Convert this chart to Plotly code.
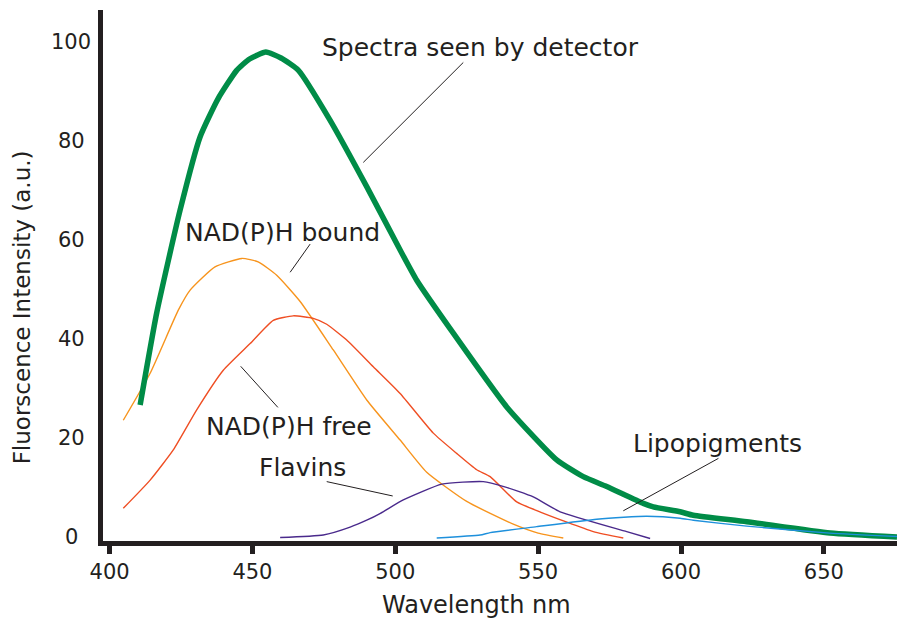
import plotly.graph_objects as go

# ---- data ----
detector_x = [410.7, 416.5, 424.7, 431.7, 438, 444.5, 449, 454.7, 460, 466.1, 477.2, 490, 501.7, 507.5,
              520.3, 539, 556.5, 565.8, 574, 586.8, 590.3, 599.7, 604.3, 623, 652.2, 675.6]
detector_y = [27.1, 45.7, 66.5, 81.3, 89, 94.7, 97, 98.4, 97.2, 94.7, 84.6, 71.2, 58.4, 52.3,
              41.6, 26.7, 16, 12.6, 10.6, 7.2, 6.5, 5.5, 4.8, 3.5, 1.2, 0.4]

bound_x = [404.8, 414.2, 424.1, 428.2, 436.9, 446.3, 452, 458.5, 466.7, 478.3, 490, 501.7, 511, 525,
           541.3, 550, 558.8]
bound_y = [24, 33.5, 46.3, 50.3, 55, 56.7, 56, 53.3, 48, 38.2, 28.1, 20, 13.5, 7.6, 3, 1.2, 0.2]

free_x = [404.8, 414.2, 422.3, 430.5, 439.8, 449.2, 457.3, 464.3, 471.3, 476, 483, 492.3, 501.7, 513.3,
          521.5, 528.5, 533.2, 542.5, 551, 569.3, 579.8]
free_y = [6.2, 11.9, 18, 26.1, 34.1, 39.5, 44.2, 45.1, 44.6, 43.4, 40.2, 34.8, 29.4, 21.4,
          17.3, 14, 12.6, 7.5, 5.4, 1.5, 0.2]

flavin_x = [459.7, 474.8, 484.2, 490, 494.8, 502.8, 516.3, 530.8, 538, 548.3, 557.7, 581, 589.2]
flavin_y = [0.3, 0.8, 2.4, 3.8, 5.2, 7.9, 11.1, 11.6, 10.6, 8.5, 5.5, 1.5, 0.1]

lipo_x = [514.5, 529.7, 533.2, 549.5, 570.5, 580, 588, 599.7, 604.3, 623, 652, 675.6]
lipo_y = [0.2, 0.8, 1.3, 2.5, 4, 4.4, 4.6, 4.2, 3.8, 2.6, 1.2, 0.5]

x_ticks = [400, 450, 500, 550, 600, 650]
y_ticks = [0, 20, 40, 60, 80, 100]

labels = ["Spectra seen by detector", "NAD(P)H bound", "NAD(P)H free", "Flavins", "Lipopigments"]
label_pos = [(529.8, 99.4), (460.6, 62.0), (462.7, 22.8), (467.6, 14.5), (612.8, 19.4)]
leaders = [((523.8, 96.3), (488.8, 76.1)),
           ((470.2, 59.6), (463.2, 53.9)),
           ((445.9, 34.9), (458.9, 26.6)),
           ((476.0, 11.6), (499.1, 8.7)),
           ((613.1, 16.3), (579.8, 5.7))]

# ---- styling ----
FONT = "DejaVu Sans"
DARK = "#231F20"

fig = go.Figure()
thin = 1.4
sm = 0.5
fig.add_trace(go.Scatter(x=bound_x, y=bound_y, mode="lines",
                         line=dict(color="#F7941D", width=thin, shape="spline", smoothing=sm)))
fig.add_trace(go.Scatter(x=free_x, y=free_y, mode="lines",
                         line=dict(color="#EF4E23", width=thin, shape="spline", smoothing=sm)))
fig.add_trace(go.Scatter(x=flavin_x, y=flavin_y, mode="lines",
                         line=dict(color="#4A2A8C", width=thin, shape="spline", smoothing=sm)))
fig.add_trace(go.Scatter(x=detector_x, y=detector_y, mode="lines",
                         line=dict(color="#008C47", width=5.5, shape="spline", smoothing=sm)))
fig.add_trace(go.Scatter(x=lipo_x, y=lipo_y, mode="lines",
                         line=dict(color="#1E90DC", width=thin, shape="spline", smoothing=sm)))

for (x0, y0), (x1, y1) in leaders:
    fig.add_shape(type="line", x0=x0, y0=y0, x1=x1, y1=y1, xref="x", yref="y",
                  line=dict(color=DARK, width=1))

for text, (tx, ty) in zip(labels, label_pos):
    fig.add_annotation(x=tx, y=ty, xref="x", yref="y", text=text, showarrow=False,
                       font=dict(family=FONT, size=25, color=DARK), xanchor="center", yanchor="middle")

for v in y_ticks:
    fig.add_annotation(x=0, y=v, xref="paper", yref="y", text=str(v), showarrow=False,
                       xshift=-32, yshift=2, xanchor="center", yanchor="middle",
                       font=dict(family=FONT, size=21, color=DARK))

fig.add_annotation(x=0.47, y=0, xref="paper", yref="paper", text="Wavelength nm", showarrow=False,
                   yshift=-64, xanchor="center", yanchor="middle",
                   font=dict(family=FONT, size=24, color=DARK))
fig.add_annotation(x=0, y=0.44, xref="paper", yref="paper", text="Fluorscence Intensity (a.u.)",
                   showarrow=False, textangle=-90, xshift=-81, xanchor="center", yanchor="middle",
                   font=dict(family=FONT, size=23, color=DARK))

fig.update_layout(
    width=897, height=621,
    margin=dict(l=103, r=0, t=10, b=80),
    paper_bgcolor="white", plot_bgcolor="white",
    showlegend=False,
    xaxis=dict(range=[397.7, 675.6], tickvals=x_ticks, ticktext=[str(v) for v in x_ticks],
               showgrid=False, zeroline=False, showline=True, linewidth=5, linecolor=DARK,
               ticks="outside", ticklen=8, tickwidth=5, tickcolor=DARK,
               tickfont=dict(family=FONT, size=21, color=DARK)),
    yaxis=dict(range=[-0.4, 106.9], showgrid=False, zeroline=False, showline=True, linewidth=5,
               linecolor=DARK, showticklabels=False, ticks=""),
)

fig.write_html("out.html")
